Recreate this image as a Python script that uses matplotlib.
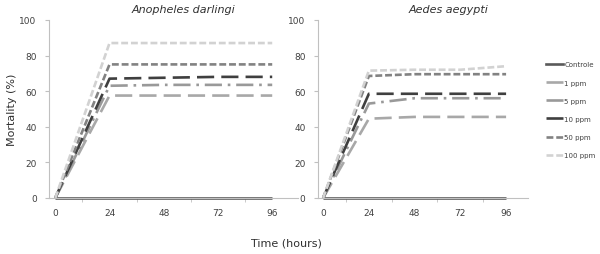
import matplotlib
matplotlib.use('Agg')
import matplotlib.pyplot as plt
from matplotlib.lines import Line2D

# dados
hours = [0, 24, 48, 72, 96]
series_names = ['Controle', '1 ppm', '5 ppm', '10 ppm', '50 ppm', '100 ppm']

anopheles_controle = [0, 0, 0, 0, 0]
anopheles_1ppm = [0, 57.5, 57.5, 57.5, 57.5]
anopheles_5ppm = [0, 63, 63.5, 63.5, 63.5]
anopheles_10ppm = [0, 67, 67.5, 68, 68]
anopheles_50ppm = [0, 75, 75, 75, 75]
anopheles_100ppm = [0, 87, 87, 87, 87]

aedes_controle = [0, 0, 0, 0, 0]
aedes_1ppm = [0, 44.5, 45.5, 45.5, 45.5]
aedes_5ppm = [0, 53, 56, 56, 56]
aedes_10ppm = [0, 58.5, 58.5, 58.5, 58.5]
aedes_50ppm = [0, 68.5, 69.5, 69.5, 69.5]
aedes_100ppm = [0, 71.5, 72, 72, 74]

styles = [
    dict(color='#5a5a5a', ls='-'),
    dict(color='#a8a8a8', dashes=(6.5, 2.7)),
    dict(color='#999999', dashes=(6.5, 2.2, 1, 2.2)),
    dict(color='#3f3f3f', dashes=(6.5, 2.7)),
    dict(color='#828282', dashes=(2.6, 1.1)),
    dict(color='#d2d2d2', dashes=(2.6, 1.1)),
]

fig = plt.figure(figsize=(6, 2.55), dpi=100)
ax1 = fig.add_axes([0.082, 0.22, 0.415, 0.698])
ax2 = fig.add_axes([0.53, 0.22, 0.35, 0.698])

data = [
    (ax1, [anopheles_controle, anopheles_1ppm, anopheles_5ppm, anopheles_10ppm, anopheles_50ppm, anopheles_100ppm]),
    (ax2, [aedes_controle, aedes_1ppm, aedes_5ppm, aedes_10ppm, aedes_50ppm, aedes_100ppm]),
]

for ax, ys in data:
    for y, st in zip(ys, styles):
        ax.plot(hours, y, lw=1.9, solid_capstyle='butt', dash_capstyle='butt', clip_on=False, **st)
    ax.set_xlim(-2.7, 107.5)
    ax.set_ylim(0, 100)
    ax.set_xticks(hours)
    ax.set_xticks([12, 36, 60, 84], minor=True)
    ax.set_yticks([0, 20, 40, 60, 80, 100])
    for s in ['top', 'right']:
        ax.spines[s].set_visible(False)
    for s in ['left', 'bottom']:
        ax.spines[s].set_color('#c0c0c0')
        ax.spines[s].set_linewidth(0.8)
    ax.tick_params(axis='x', which='major', length=0, pad=7, labelsize=6.5, labelcolor='#404040')
    ax.tick_params(axis='x', which='minor', length=3, color='#c0c0c0', direction='out')
    ax.tick_params(axis='y', length=3, color='#c0c0c0', labelsize=6.5, labelcolor='#404040', pad=6)

fig.text(0.305, 0.962, 'Anopheles darlingi', ha='center', va='center', fontsize=8, style='italic', color='#303030')
fig.text(0.747, 0.962, 'Aedes aegypti', ha='center', va='center', fontsize=8, style='italic', color='#303030')
fig.text(0.02, 0.57, 'Mortality (%)', rotation=90, ha='center', va='center', fontsize=8, color='#303030')
fig.text(0.478, 0.045, 'Time (hours)', ha='center', va='center', fontsize=8, color='#303030')

# legenda
handles = [Line2D([], [], lw=1.9, **st) for st in styles]
leg = fig.legend(handles, series_names, loc='upper left', bbox_to_anchor=(0.9, 0.78),
                 frameon=False, fontsize=5, handlelength=2.4, handletextpad=0.2,
                 labelspacing=1.75, labelcolor='#404040')

fig.savefig('out.png', dpi=100)
